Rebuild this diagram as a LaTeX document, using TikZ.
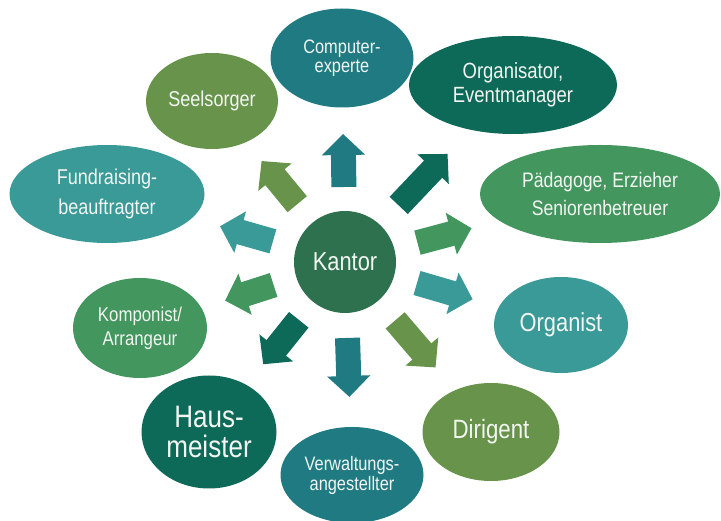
\documentclass[tikz,border=0pt]{standalone}
\usepackage{fontspec}
\setmainfont{Liberation Sans}[FakeStretch=0.84]
\usepackage{tikz}
\usetikzlibrary{arrows.meta, shapes.geometric, calc}

\definecolor{petrol}{HTML}{1F7A82}
\definecolor{pine}{HTML}{0E6A58}
\definecolor{meadow}{HTML}{42965E}
\definecolor{lagoon}{HTML}{3A9A97}
\definecolor{moss}{HTML}{67944A}
\definecolor{kantorgreen}{HTML}{2E714F}
\definecolor{chalk}{HTML}{F2F5F2}

\newcommand{\fsz}[2]{\fontsize{#1pt}{#2pt}\selectfont}

\begin{document}
\begin{tikzpicture}[
    x=1pt, y=1pt,
    role/.style={ellipse, fill=#1, text=chalk, inner sep=0pt, align=center},
    spoke/.style={line width=25pt, draw=#1, -{Triangle[width=42pt, length=21pt]}}
]
    \useasboundingbox (0,0) rectangle (721,-521);

    \node[role=kantorgreen, minimum width=102pt, minimum height=102pt, font=\fsz{26}{30}] (kantor) at (345,-262) {Kantor};

    \node[role=petrol, minimum width=143pt, minimum height=99pt, font=\fsz{19.5}{19}] (computer) at (342,-58) {Computer-\\experte};
    \node[role=pine, minimum width=208pt, minimum height=98pt, font=\fsz{22}{24}] (orga) at (513,-85) {Organisator,\\Eventmanager};
    \node[role=moss, minimum width=132pt, minimum height=96pt, font=\fsz{21.5}{24}] (seel) at (212,-101) {Seelsorger};
    \node[role=lagoon, minimum width=195pt, minimum height=98pt, font=\fsz{21.5}{30}] (fund) at (107,-194) {Fundraising-\\beauftragter};
    \node[role=meadow, minimum width=240pt, minimum height=98pt, font=\fsz{21}{28}] (paed) at (600,-194) {Pädagoge, Erzieher\\Seniorenbetreuer};
    \node[role=meadow, minimum width=134pt, minimum height=100pt, font=\fsz{20}{24}] (komp) at (140,-328) {Komponist/\\Arrangeur};
    \node[role=lagoon, minimum width=134pt, minimum height=96pt, font=\fsz{26}{30}] (organist) at (561,-325) {Organist};
    \node[role=pine, minimum width=135pt, minimum height=113pt, font=\fsz{31}{30}] (haus) at (209,-432) {Haus-\\meister};
    \node[role=moss, minimum width=137pt, minimum height=98pt, font=\fsz{26.5}{28}] (dirig) at (491,-432) {Dirigent};
    \node[role=petrol, minimum width=143pt, minimum height=96pt, font=\fsz{19.5}{20}] (verw) at (352,-475) {Verwaltungs-\\angestellter};

    \draw[spoke=petrol] ($(kantor.center)!75pt!(computer.center)$) -- ($(kantor.center)!128pt!(computer.center)$);
    \draw[spoke=pine] ($(kantor.center)!78pt!(orga.center)$) -- ($(kantor.center)!149pt!(orga.center)$);
    \draw[spoke=moss] ($(kantor.center)!75pt!(seel.center)$) -- ($(kantor.center)!131pt!(seel.center)$);
    \draw[spoke=lagoon] ($(kantor.center)!75pt!(fund.center)$) -- ($(kantor.center)!130pt!(fund.center)$);
    \draw[spoke=meadow] ($(kantor.center)!75pt!(paed.center)$) -- ($(kantor.center)!131pt!(paed.center)$);
    \draw[spoke=meadow] ($(kantor.center)!75pt!(komp.center)$) -- ($(kantor.center)!126pt!(komp.center)$);
    \draw[spoke=lagoon] ($(kantor.center)!75pt!(organist.center)$) -- ($(kantor.center)!133pt!(organist.center)$);
    \draw[spoke=pine] ($(kantor.center)!74pt!(haus.center)$) -- ($(kantor.center)!131pt!(haus.center)$);
    \draw[spoke=moss] ($(kantor.center)!77pt!(dirig.center)$) -- ($(kantor.center)!139pt!(dirig.center)$);
    \draw[spoke=petrol] ($(kantor.center)!76pt!(verw.center)$) -- ($(kantor.center)!135pt!(verw.center)$);

\end{tikzpicture}
\end{document}
